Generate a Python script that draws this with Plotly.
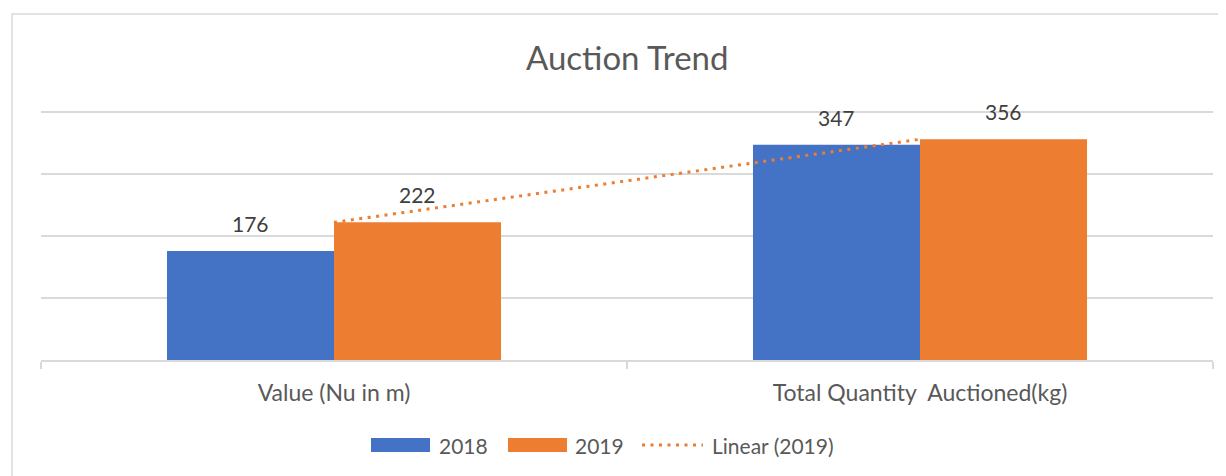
import plotly.graph_objects as go

categories = ["Value (Nu in m)", "Total Quantity  Auctioned(kg)"]
values_2018 = [176, 347]
values_2019 = [222, 356]
series_names = ["2018", "2019"]
trend_name = "Linear (2019)"
title_text = "Auction Trend"

BLUE = "#4472C4"
ORANGE = "#ED7D31"
GRID = "#d9d9d9"
TEXT = "#595959"
LABEL = "#404040"
FONT = "Lato"

# page body adds an 8px offset; work in window pixels and convert
OFF = 8
WIN_W, WIN_H = 1226, 476
W, H = WIN_W - OFF, WIN_H - OFF
PLOT_L, PLOT_R, PLOT_T, PLOT_B = 41, 1213, 108, 360
L = PLOT_L - OFF
R = W - (PLOT_R - OFF)
T = PLOT_T - OFF
B = H - (PLOT_B - OFF)
PW = PLOT_R - PLOT_L
PH = PLOT_B - PLOT_T
Y_MAX = PH / 0.62


def px_x(x):
    return (x - PLOT_L) / PW


def px_y(y):
    return (PLOT_B - y) / PH


fig = go.Figure()
fig.add_trace(go.Bar(x=categories, y=values_2018, name=series_names[0],
                     marker=dict(color=BLUE, line=dict(width=0))))
fig.add_trace(go.Bar(x=categories, y=values_2019, name=series_names[1],
                     marker=dict(color=ORANGE, line=dict(width=0))))
fig.add_trace(go.Scatter(x=categories, y=values_2019, name=trend_name, mode="lines",
                         line=dict(color=ORANGE, width=3, dash="3px,5.5px")))

annotations = []
bar_half = PW / len(categories) * (1 - 0.43) / 4
for vals, shift in ((values_2018, -bar_half), (values_2019, bar_half)):
    for c, v in zip(categories, vals):
        annotations.append(dict(x=c, y=v, xref="x", yref="y", text=str(v), showarrow=False,
                                xshift=shift, yshift=13, yanchor="bottom",
                                font=dict(family=FONT, size=21, color=LABEL)))

annotations.append(dict(x=px_x(627), y=px_y(57), xref="paper", yref="paper", text=title_text,
                        showarrow=False, yanchor="middle", xanchor="center",
                        font=dict(family=FONT, size=33, color=TEXT)))

shapes = [
    dict(type="rect", xref="paper", yref="paper", x0=px_x(12), x1=px_x(1250),
         y0=px_y(14), y1=px_y(500), line=dict(color=GRID, width=1.5), layer="below"),
]
leg_y = px_y(445)
legend_items = [
    ("rect", BLUE, 371, 430, series_names[0], 437),
    ("rect", ORANGE, 508, 567, series_names[1], 573),
    ("line", ORANGE, 642, 703, trend_name, 710),
]
for kind, col, x0, x1, label, tx in legend_items:
    if kind == "rect":
        shapes.append(dict(type="rect", xref="paper", yref="paper", x0=px_x(x0), x1=px_x(x1),
                           y0=px_y(452), y1=px_y(438), fillcolor=col, line=dict(width=0)))
    else:
        shapes.append(dict(type="line", xref="paper", yref="paper", x0=px_x(x0), x1=px_x(x1),
                           y0=leg_y, y1=leg_y, line=dict(color=col, width=3, dash="3px,5.5px")))
    annotations.append(dict(x=px_x(tx), y=leg_y, xref="paper", yref="paper", text=label,
                            showarrow=False, xanchor="left", yanchor="middle",
                            font=dict(family=FONT, size=21, color=TEXT)))

fig.update_layout(
    width=W, height=H,
    margin=dict(l=L, r=R, t=T, b=B, pad=0),
    paper_bgcolor="white", plot_bgcolor="white",
    barmode="group", bargap=0.43, bargroupgap=0,
    showlegend=False,
    annotations=annotations,
    shapes=shapes,
    font=dict(family=FONT, color=TEXT),
)
fig.update_xaxes(showline=True, linecolor=GRID, linewidth=1.5, tickson="boundaries",
                 ticks="outside", ticklen=7, tickcolor=GRID, tickwidth=1.5,
                 showgrid=False, tickfont=dict(family=FONT, size=23, color=TEXT),
                 ticklabelstandoff=12, fixedrange=True)
fig.update_yaxes(range=[0, Y_MAX], dtick=100, showgrid=True, gridcolor=GRID, gridwidth=1.5,
                 showticklabels=False, zeroline=False, showline=False, fixedrange=True)

fig.write_html("out.html", config={"displayModeBar": False})
